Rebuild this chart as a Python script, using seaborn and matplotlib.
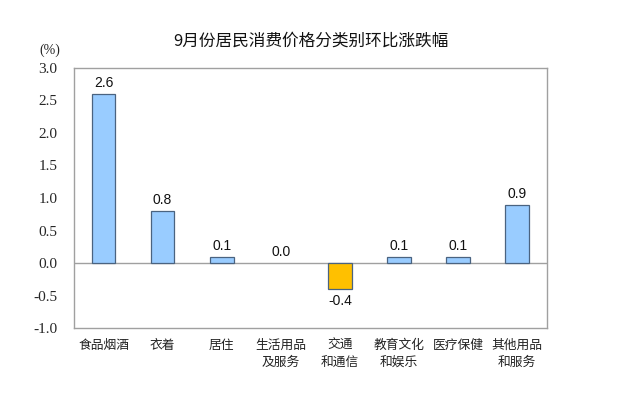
import matplotlib
matplotlib.use("Agg")
import matplotlib.pyplot as plt
import seaborn as sns

categories = ["食品烟酒", "衣着", "居住", "生活用品\n及服务", "交通\n和通信",
              "教育文化\n和娱乐", "医疗保健", "其他用品\n和服务"]
values = [2.6, 0.8, 0.1, 0.0, -0.4, 0.1, 0.1, 0.9]
yticks = [-1.0, -0.5, 0.0, 0.5, 1.0, 1.5, 2.0, 2.5, 3.0]
title = "9月份居民消费价格分类别环比涨跌幅"

sns.set_theme(style="white")
plt.rcParams['font.family'] = ['Noto Sans CJK SC', 'DejaVu Sans']

colors = ["#FFC000" if v < 0 else "#99CCFF" for v in values]

fig = plt.figure(figsize=(6.35, 3.96), dpi=100)
ax = fig.add_axes([0.1165, 0.1717, 0.7445, 0.6566])

sns.barplot(x=categories, y=values, hue=categories, palette=colors, legend=False,
            width=0.4, edgecolor="#4A6380", linewidth=0.9, saturation=1, ax=ax)
# zero-height bars show no outline in the original
for patch in ax.patches:
    if patch.get_height() == 0:
        patch.set_linewidth(0)

ax.axhline(0, color="#A0A0A0", linewidth=1.0, zorder=0.5)
ax.set_ylim(-1.0, 3.0)
ax.set_xlim(-0.5, len(categories) - 0.5)
ax.set_yticks(yticks)
ax.set_yticklabels([f"{t:.1f}" for t in yticks], family="Liberation Serif", fontsize=11)
ax.tick_params(axis="y", direction="in", length=4, color="#A0A0A0", pad=12)
ax.tick_params(axis="x", length=0, pad=8, labelsize=9.2)
for lbl in ax.get_xticklabels():
    lbl.set_linespacing(1.35)
    lbl.set_color("#222222")
for s in ax.spines.values():
    s.set_color("#A0A0A0")
    s.set_linewidth(1.0)
ax.set_xlabel("")
ax.set_ylabel("")

for i, v in enumerate(values):
    if v < 0:
        ax.text(i, v - 0.08, f"{v:.1f}", ha="center", va="top", fontsize=10,
                family="Liberation Sans", color="#111111")
    else:
        ax.text(i, v + 0.06, f"{v:.1f}", ha="center", va="bottom", fontsize=10,
                family="Liberation Sans", color="#111111")

fig.text(0.062, 0.865, "(%)", family="Liberation Serif", fontsize=10, color="#222222")
fig.text(0.489, 0.895, title, ha="center", va="center", fontsize=12, color="#111111")

fig.savefig("out.png", dpi=100, facecolor="white")
